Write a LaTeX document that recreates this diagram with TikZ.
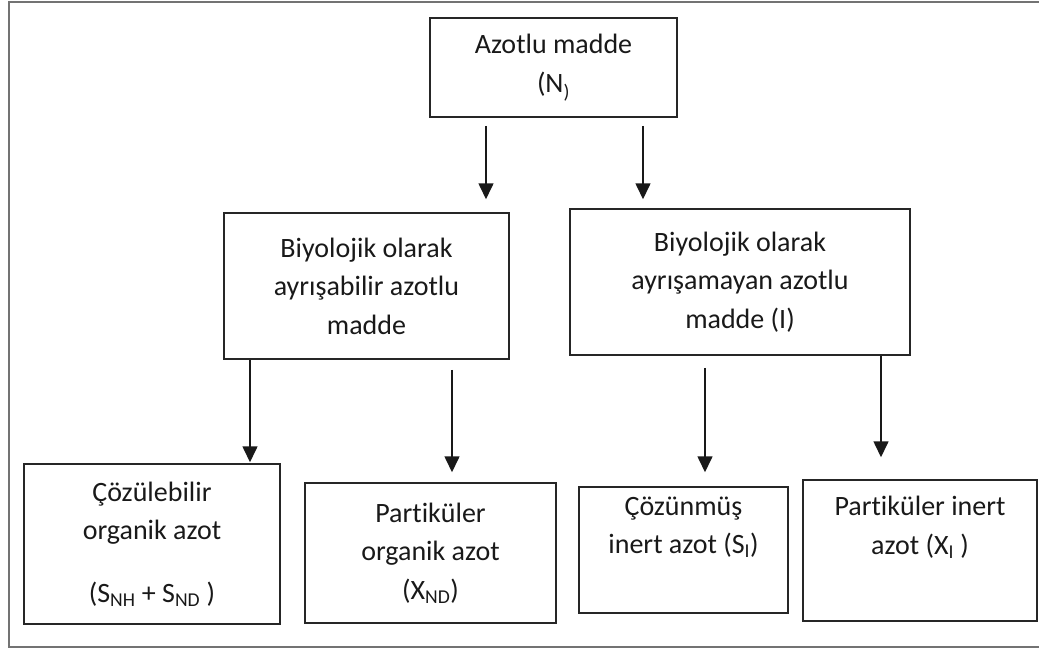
\documentclass[tikz,border=0pt]{standalone}
\usepackage{fontspec}
\setmainfont{Carlito}[Ligatures=NoCommon]
\usetikzlibrary{arrows.meta}

\tikzset{
    box/.style={draw=black!85, line width=1.5pt, rectangle, align=center,
        inner sep=0pt, text=black!90},
    arw/.style={draw=black!90, line width=1.6pt, -{Triangle[width=15pt,length=16pt]}},
}
\newcommand{\sbs}[1]{\textsubscript{#1}}

\begin{document}
\begin{tikzpicture}[x=1pt,y=-1pt,font=\fontsize{28}{38.5}\selectfont]
    \useasboundingbox (0,0) rectangle (1039,649);

    % outer frame (runs off at the right)
    \draw[black!55, line width=2pt] (1039,1.5) -- (9,1.5) -- (9,647) -- (1039,647);

    % top box
    \node[box, minimum width=247pt, minimum height=99pt] (N) at (553.5,67.5)
        {Azotlu madde\\(N\sbs{)}};

    % middle row
    \node[box, minimum width=285pt, minimum height=146pt] (B) at (366.5,286)
        {Biyolojik olarak\\ayrışabilir azotlu\\madde};
    \node[box, minimum width=340pt, minimum height=146pt] (I) at (740,282)
        {Biyolojik olarak\\ayrışamayan azotlu\\madde (I)};

    % bottom row
    \node[box, minimum width=256pt, minimum height=160pt] (S1) at (152,544)
        {Çözülebilir\\organik azot\\[24pt](S\sbs{NH} + S\sbs{ND} )};
    \node[box, minimum width=251pt, minimum height=140pt] (X1) at (430.5,553)
        {Partiküler\\organik azot\\(X\sbs{ND})};
    \node[box, minimum width=209pt, minimum height=126pt] (SI) at (683.5,550)
        {Çözünmüş\\inert azot (S\sbs{I})\\\strut};
    \node[box, minimum width=234pt, minimum height=141pt] (XI) at (920,550.5)
        {Partiküler inert\\azot (X\sbs{I} )\\\strut};

    % arrows
    \foreach \from/\to/\x/\sa/\sb in {N/B/486/8/13, N/I/643/8/9, B/S1/250/0/1,
        B/X1/452/10/10, I/SI/705/12/14, I/XI/881/0/22} {
        \draw[arw, shorten <=\sa pt, shorten >=\sb pt] (\from.south -| \x,0) -- (\to.north -| \x,0);
    }
\end{tikzpicture}
\end{document}
